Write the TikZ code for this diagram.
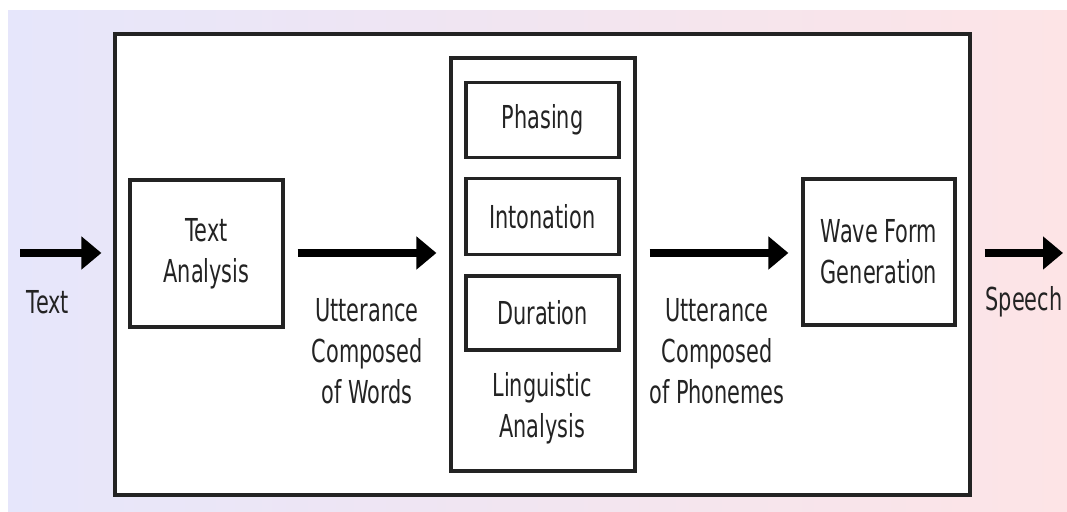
\documentclass[tikz,border=0pt]{standalone}
\usepackage{fontspec}
\setmainfont{DejaVu Sans}[FakeStretch=0.66]
\usepackage{xcolor}
\usetikzlibrary{arrows.meta,positioning}
\definecolor{bgL}{RGB}{230,230,251}
\definecolor{bgR}{RGB}{253,228,230}
\definecolor{ink}{RGB}{35,35,35}
\tikzset{
	every node/.style={font=\fontsize{15.8pt}{20.5pt}\selectfont,text=ink},
	proc/.style={draw=ink,line width=1.6pt,fill=white,align=center,inner sep=0pt},
	lbl/.style={align=center,inner sep=0pt},
	flow/.style={line width=4pt,-{Triangle[length=10pt,width=16pt]}}
}
\begin{document}
\begin{tikzpicture}[x=0.5pt,y=-0.5pt]
		\useasboundingbox (0,0) rectangle (1067,512);
		\fill[white] (0,0) rectangle (1067,512);
		\fill[left color=bgL,right color=bgR] (8,11) rectangle (1067,512);
		\draw[draw=ink,line width=1.8pt,fill=white] (115,34) rectangle (970,495);
		%
		\coordinate (in) at (20,253);
		\coordinate (out) at (1063,253);
		\node[proc,minimum width=76.5pt,minimum height=73.5pt] (TA) at (206.5,253.5) {Text\\Analysis};
		\node[proc,minimum width=92pt,minimum height=206.5pt] (LA) at (543,264.5) {};
		\node[proc,minimum width=76.5pt,minimum height=37.5pt] (PH) at (542.5,120) {Phasing};
		\node[proc,minimum width=76.5pt,minimum height=38pt] (IN) at (542.5,216.5) {Intonation};
		\node[proc,minimum width=76.5pt,minimum height=37pt] (DU) at (542.5,313) {Duration};
		\node[proc,minimum width=76pt,minimum height=73pt] (WF) at (879,252) {Wave Form\\Generation};
		%
		\node[lbl] (Ltext) at (48,302) {Text};
		\node[lbl] (Lwords) at (367,351) {Utterance\\Composed\\of Words};
		\node[lbl] (Lling) at (542,408) {Linguistic\\Analysis};
		\node[lbl] (Lphon) at (717,351) {Utterance\\Composed\\of Phonemes};
		\node[lbl] (Lspeech) at (1024,302) {Speech};
		%
		\path[flow]
		% into and out of the system
		(in) edge[shorten >=13.5pt] (in -| TA.west)
		(out -| WF.east) edge[shorten <=14pt] (out)
		% between the stages
		(in -| TA.east) edge[shorten <=6.5pt,shorten >=6.5pt] (in -| LA.west)
		(in -| LA.east) edge[shorten <=6.5pt,shorten >=6.5pt] (in -| WF.west);
	\end{tikzpicture}
\end{document}
